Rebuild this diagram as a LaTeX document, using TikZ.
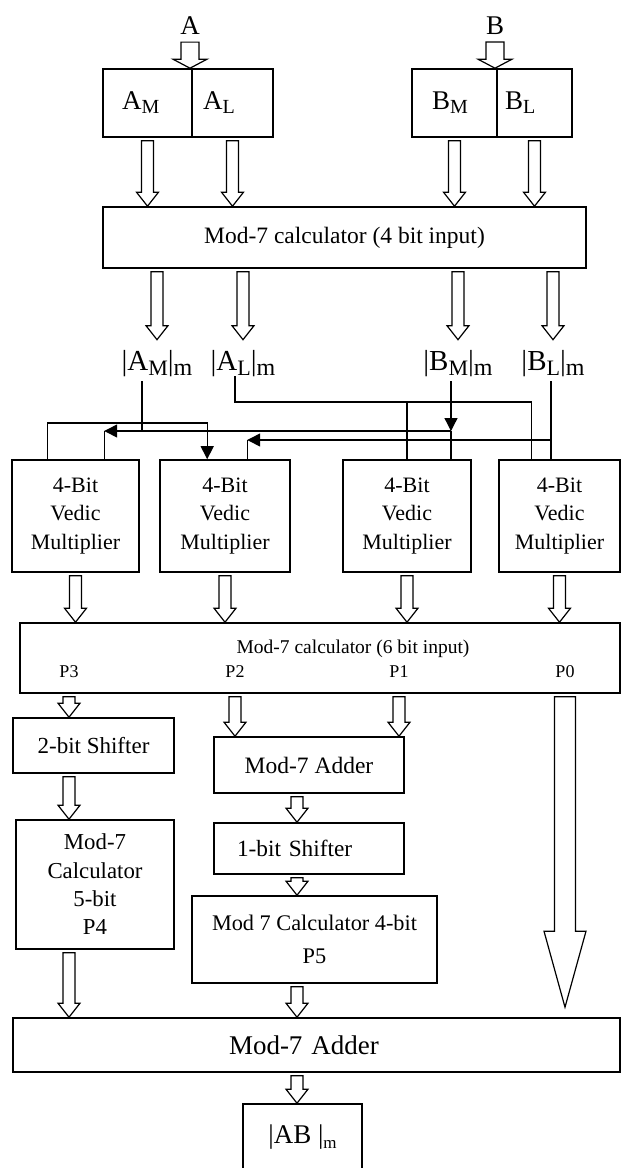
\documentclass[tikz,border=0pt]{standalone}
\usepackage{fontspec}
\setmainfont{Liberation Serif}
\usetikzlibrary{arrows.meta,calc}
\newcommand\fs[2]{\fontsize{#1}{#2}\selectfont}
\newcommand\sbx[3][4pt]{\raisebox{-#1}{\fontsize{#2}{#2}\selectfont #3}}
% hollow block arrow: start, tip, half shaft, half head, head length
\newcommand\fatarr[5]{%
  \draw[fat] let \p1=#1, \p2=#2 in
    (\x1-#3,\y1-3pt) -- (\x1+#3,\y1-3pt) -- (\x1+#3,\y2+#5) -- (\x1+#4,\y2+#5)
    -- (\x1,\y2) -- (\x1-#4,\y2+#5) -- (\x1-#3,\y2+#5) -- cycle;}
\newcommand\smarr[2]{\fatarr{#1}{#2}{6pt}{11pt}{14pt}}
\begin{document}
\begin{tikzpicture}[x=1pt,y=-1pt,>={Triangle[length=13pt,width=13pt]},line join=miter,
	box/.style={draw,line width=1.6pt,inner sep=0pt,align=center},
	wire/.style={line width=1.3pt},
	fat/.style={line width=1.2pt},
	txt/.style={inner sep=0pt}]
	\useasboundingbox (0,0) rectangle (622,1168);
	\clip (0,0) rectangle (622,1168);
	% inputs
	\node[txt,font=\fs{27}{32}] (inA) at (190,26) {A};
	\node[txt,font=\fs{27}{32}] (inB) at (495,26) {B};
	\node[box,font=\fs{27}{32},minimum width=89pt,minimum height=68pt,text width=51pt,inner xsep=19pt,align=left] (am) at (147.5,103) {A\sbx{20}{M}};
	\node[box,font=\fs{27}{32},minimum width=81pt,minimum height=68pt,text width=59pt,inner xsep=11pt,align=left] (al) at (232.5,103) {A\sbx{20}{L}};
	\node[box,font=\fs{27}{32},minimum width=85pt,minimum height=68pt,text width=45pt,inner xsep=20pt,align=left] (bm) at (454.5,103) {B\sbx{20}{M}};
	\node[box,font=\fs{27}{32},minimum width=75pt,minimum height=68pt,text width=59pt,inner xsep=8pt,align=left] (bl) at (534.5,103) {B\sbx{20}{L}};
	\node[box,font=\fs{23.5}{28},minimum width=483pt,minimum height=61pt] (calcA) at (344.5,237.5) {Mod-7 calculator (4 bit input)};
	% residues
	\node[txt,font=\fs{29}{34},anchor=base] (lam) at (157,370) {|A\sbx[5pt]{22}{M}|\sbx[5pt]{24}{m}};
	\node[txt,font=\fs{29}{34},anchor=base] (lal) at (243,370) {|A\sbx[5pt]{22}{L}|\sbx[5pt]{24}{m}};
	\node[txt,font=\fs{29}{34},anchor=base] (lbm) at (458,370) {|B\sbx[5pt]{22}{M}|\sbx[5pt]{24}{m}};
	\node[txt,font=\fs{29}{34},anchor=base] (lbl) at (553,370) {|B\sbx[5pt]{22}{L}|\sbx[5pt]{24}{m}};
	% multipliers
	\node[box,font=\fs{22}{28.5},minimum width=127pt,minimum height=112pt] (m1) at (75.5,516) {4-Bit\\Vedic\\Multiplier};
	\node[box,font=\fs{22}{28.5},minimum width=130pt,minimum height=112pt] (m2) at (225,516) {4-Bit\\Vedic\\Multiplier};
	\node[box,font=\fs{22}{28.5},minimum width=128pt,minimum height=112pt] (m3) at (407,516) {4-Bit\\Vedic\\Multiplier};
	\node[box,font=\fs{22}{28.5},minimum width=121pt,minimum height=112pt] (m4) at (559.5,516) {4-Bit\\Vedic\\Multiplier};
	\node[box,minimum width=600pt,minimum height=70pt] (calcB) at (320,658) {};
	\node[txt,font=\fs{19.5}{23}] (calcBt) at (353,649) {Mod-7 calculator (6 bit input)};
	\node[txt,font=\fs{18}{22}] (p3) at (69,672) {P3};
	\node[txt,font=\fs{18}{22}] (p2) at (235,672) {P2};
	\node[txt,font=\fs{18}{22}] (p1) at (399,672) {P1};
	\node[txt,font=\fs{18}{22}] (p0) at (565,672) {P0};
	% lower stages
	\node[box,font=\fs{23}{28},minimum width=161pt,minimum height=55pt] (sh2) at (93.5,745.5) {2-bit Shifter};
	\node[box,font=\fs{22.8}{28.3},minimum width=158pt,minimum height=129pt] (c5) at (95,884.5) {Mod-7\\Calculator\\5-bit\\P4};
	\node[box,font=\fs{23.5}{28},minimum width=190pt,minimum height=56pt] (add1) at (309,765) {Mod-7 Adder};
	\node[box,font=\fs{23.3}{28},minimum width=190pt,minimum height=51pt,text width=144pt,inner xsep=23pt,align=left] (sh1) at (309,848.5) {1-bit Shifter};
	\node[box,font=\fs{22.3}{33},minimum width=245pt,minimum height=87pt] (c4) at (314.5,939.5) {Mod 7 Calculator 4-bit\\P5};
	\node[box,font=\fs{27}{32},minimum width=607pt,minimum height=54pt,text width=175pt,inner xsep=216pt,align=left] (fin) at (316.5,1045) {Mod-7 Adder};
	\node[box,font=\fs{27}{32},minimum width=119pt,minimum height=66pt] (ab) at (302.5,1137) {|AB |\sbx[5pt]{17}{m}};
	% wiring to the multipliers
	\coordinate (r3) at (0,402); \coordinate (r0) at (0,423);
	\coordinate (r1) at (0,431); \coordinate (r2) at (0,440);
	\coordinate (mid) at (297,0);
	\coordinate (amv) at ([xshift=-15pt,yshift=-5pt]lam.south);
	\coordinate (alv) at ([xshift=-8pt]lal.south);
	\coordinate (bmv) at ([xshift=-7pt,yshift=-5pt]lbm.south);
	\coordinate (blv) at ([xshift=-2pt,yshift=-5pt]lbl.south);
	\coordinate (d1a) at ([xshift=36pt]m1.north west);
	\coordinate (d1b) at ([xshift=93pt]m1.north west);
	\coordinate (d2a) at ([xshift=48pt]m2.north west);
	\coordinate (d2b) at ([xshift=88pt]m2.north west);
	\coordinate (d4a) at ([xshift=33pt]m4.north west);
	\draw[wire] (amv) -- (amv |- r1);
	\draw[wire,->] (d1a) |- (d2a |- r0) -- (d2a);
	\draw[wire,->] (bmv) -- (bmv |- r1);
	\draw[wire] (bmv |- r1) -- (m3.north -| bmv);
	\draw[wire,->] (bmv |- r1) -- (d1b |- r1);
	\draw[wire] (d1b |- r1) -- (d1b);
	\draw[wire] (blv) -- (m4.north -| blv);
	\draw[wire,->] (blv |- r2) -- (d2b |- r2);
	\draw[wire] (d2b |- r2) -- (d2b);
	\draw[wire] (alv) |- (d4a |- r3) -- (d4a);
	\draw[wire] (m3.north |- r3) -- (m3.north);
	% block arrows
	\fatarr{([yshift=-4pt]inA.south)}{(al.north west)}{9pt}{17pt}{9pt}
	\fatarr{([yshift=-4pt]inB.south)}{(bl.north west)}{9pt}{17pt}{9pt}
	\foreach \blk in {am,al,bm,bl} {\smarr{(\blk.south)}{(calcA.north -| \blk.south)}}
	\foreach \blk in {lam,lal,lbm,lbl} {\smarr{(calcA.south -| \blk.north)}{([yshift=10pt]\blk.north)}}
	\foreach \blk in {m1,m2,m3,m4} {\smarr{(\blk.south)}{(calcB.north -| \blk.south)}}
	\smarr{(calcB.south -| p3)}{(sh2.north -| p3)}
	\smarr{(calcB.south -| p2)}{(add1.north -| p2)}
	\smarr{(calcB.south -| p1)}{(add1.north -| p1)}
	\fatarr{(calcB.south -| p0)}{([yshift=10pt]fin.north -| p0)}{10.5pt}{21pt}{76pt}
	\smarr{(sh2.south -| p3)}{(c5.north -| p3)}
	\smarr{(c5.south -| p3)}{(fin.north -| p3)}
	\smarr{(add1.south -| mid)}{(sh1.north -| mid)}
	\smarr{(sh1.south -| mid)}{(c4.north -| mid)}
	\smarr{(c4.south -| mid)}{(fin.north -| mid)}
	\smarr{(fin.south -| mid)}{(ab.north -| mid)}
\end{tikzpicture}
\end{document}
